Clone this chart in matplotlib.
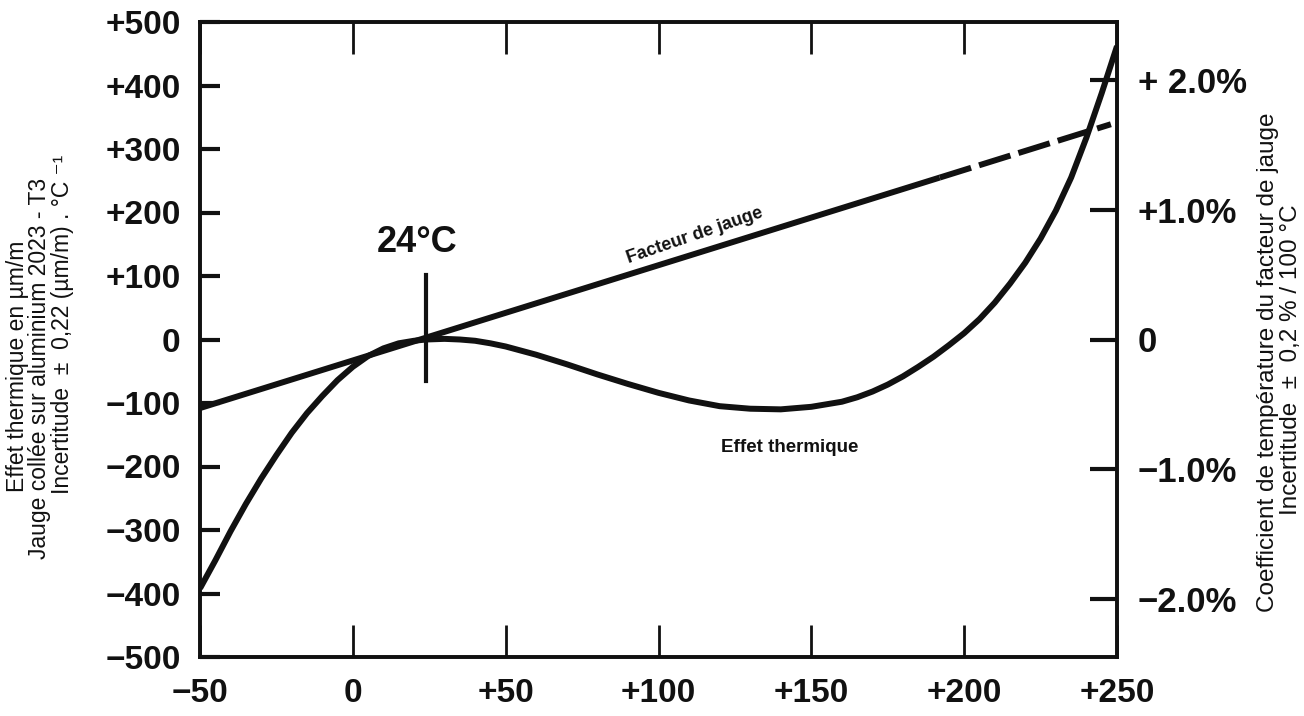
import matplotlib
matplotlib.use("Agg")
import matplotlib.pyplot as plt

# ---------------------------------------------------------------- data
# thermal output of the gauge bonded on 2023-T3 aluminium, um/m vs degC
temp = [-50, -45, -40, -35, -30, -25, -20, -15, -10, -5, 0, 5, 10, 15, 20, 24,
        30, 35, 40, 45, 50, 60, 70, 80, 90, 100, 110, 120, 130, 140, 150, 160,
        165, 170, 175, 180, 185, 190, 195, 200, 205, 210, 215, 220, 225, 230,
        235, 240, 245, 250]
thermal = [-392, -348, -302, -259, -219, -182, -147, -116, -89, -64, -43, -26,
           -14, -6, -2, 0, 1, 0, -2, -6, -11, -24, -39, -55, -70, -84, -96,
           -105, -109, -110, -106, -98, -91, -82, -71, -58, -43, -27, -9, 10,
           32, 58, 88, 121, 159, 203, 255, 318, 388, 462]

# gauge factor drift (straight line, dashed past ~190 degC), left-axis units
gf_temp_solid = [-50, 192]
gf_val_solid = [-108, 255]
gf_temp_dash = [192, 248]
gf_val_dash = [255, 339]

ref_temp = 24                     # reference temperature marker
ref_span = [-66, 102]

x_ticks = [-50, 0, 50, 100, 150, 200, 250]
x_labels = ["\u221250", "0", "+50", "+100", "+150", "+200", "+250"]
y_ticks = [-500, -400, -300, -200, -100, 0, 100, 200, 300, 400, 500]
y_labels = ["\u2212500", "\u2212400", "\u2212300", "\u2212200", "\u2212100", "0",
            "+100", "+200", "+300", "+400", "+500"]
pct_ticks = [-2, -1, 0, 1, 2]
pct_labels = ["\u22122.0%", "\u22121.0%", "0", "+1.0%", "+ 2.0%"]
UNITS_PER_PCT = 204               # 1 % on the right axis == 204 um/m on the left

W, H = 1304, 716
plt.rcParams["font.family"] = ["Liberation Sans", "DejaVu Sans"]

fig = plt.figure(figsize=(W / 100, H / 100), dpi=100)
ax = fig.add_axes([200 / W, 59 / H, 917 / W, 635 / H])

ink = "#111111"
ax.plot(temp, thermal, color=ink, lw=4.3, solid_joinstyle="round",
        solid_capstyle="butt")
ax.plot(gf_temp_solid, gf_val_solid, color=ink, lw=4.3, solid_capstyle="butt")
ax.plot(gf_temp_dash, gf_val_dash, color=ink, lw=4.3, dashes=(5.5, 1.4))
ax.plot([ref_temp, ref_temp], ref_span, color=ink, lw=3)

ax.set_xlim(-50, 250)
ax.set_ylim(-500, 500)
ax.set_xticks(x_ticks)
ax.set_xticklabels(x_labels)
ax.set_yticks(y_ticks)
ax.set_yticklabels(y_labels)
ax.xaxis.set_ticks_position("both")
ax.tick_params(axis="x", direction="in", length=23, width=2, pad=15,
               labelsize=24, colors=ink)
ax.tick_params(axis="y", direction="in", length=14.5, width=3, pad=14,
               labelsize=24, colors=ink)
for lab in ax.get_xticklabels() + ax.get_yticklabels():
    lab.set_fontweight("bold")
for sp in ax.spines.values():
    sp.set_linewidth(2.6)
    sp.set_color(ink)

ax2 = ax.twinx()
ax2.set_ylim(-500 / UNITS_PER_PCT, 500 / UNITS_PER_PCT)
ax2.set_yticks(pct_ticks)
ax2.set_yticklabels(pct_labels)
ax2.tick_params(axis="y", direction="in", length=19.5, width=3, pad=15,
                labelsize=25, colors=ink)
for lab in ax2.get_yticklabels():
    lab.set_fontweight("bold")
for sp in ax2.spines.values():
    sp.set_linewidth(2.6)
    sp.set_color(ink)

# annotations inside the plot
ax.text(21, 152, "24\u00b0C", fontsize=26, fontweight="bold", ha="center",
        va="center", color=ink)
ax.text(112, 163, "Facteur de jauge", fontsize=13, fontweight="bold",
        rotation=19, ha="center", va="center", color=ink)
ax.text(143, -170, "Effet thermique", fontsize=13.5, fontweight="bold",
        ha="center", va="center", color=ink)


def px_text(x, y, s, size):
    fig.text(x / W, 1 - y / H, s, rotation=90, ha="center", va="center",
             fontsize=size, color=ink)


# left axis title, three lines
px_text(18, 366, "Effet thermique en \u00b5m/m", 16.5)
px_text(40, 368, "Jauge coll\u00e9e sur aluminium 2023 - T3", 16.5)
px_text(62, 324, "Incertitude  \u00b1  0,22 (\u00b5m/m) . \u00b0C \u207b\u00b9", 16.5)

# right axis title, two lines
px_text(1268, 362, "Coefficient de temp\u00e9rature du facteur de jauge", 17.5)
px_text(1291, 360, "Incertitude  \u00b1  0,2 % / 100 \u00b0C", 17.5)

fig.savefig("out.png", dpi=100, facecolor="white")
